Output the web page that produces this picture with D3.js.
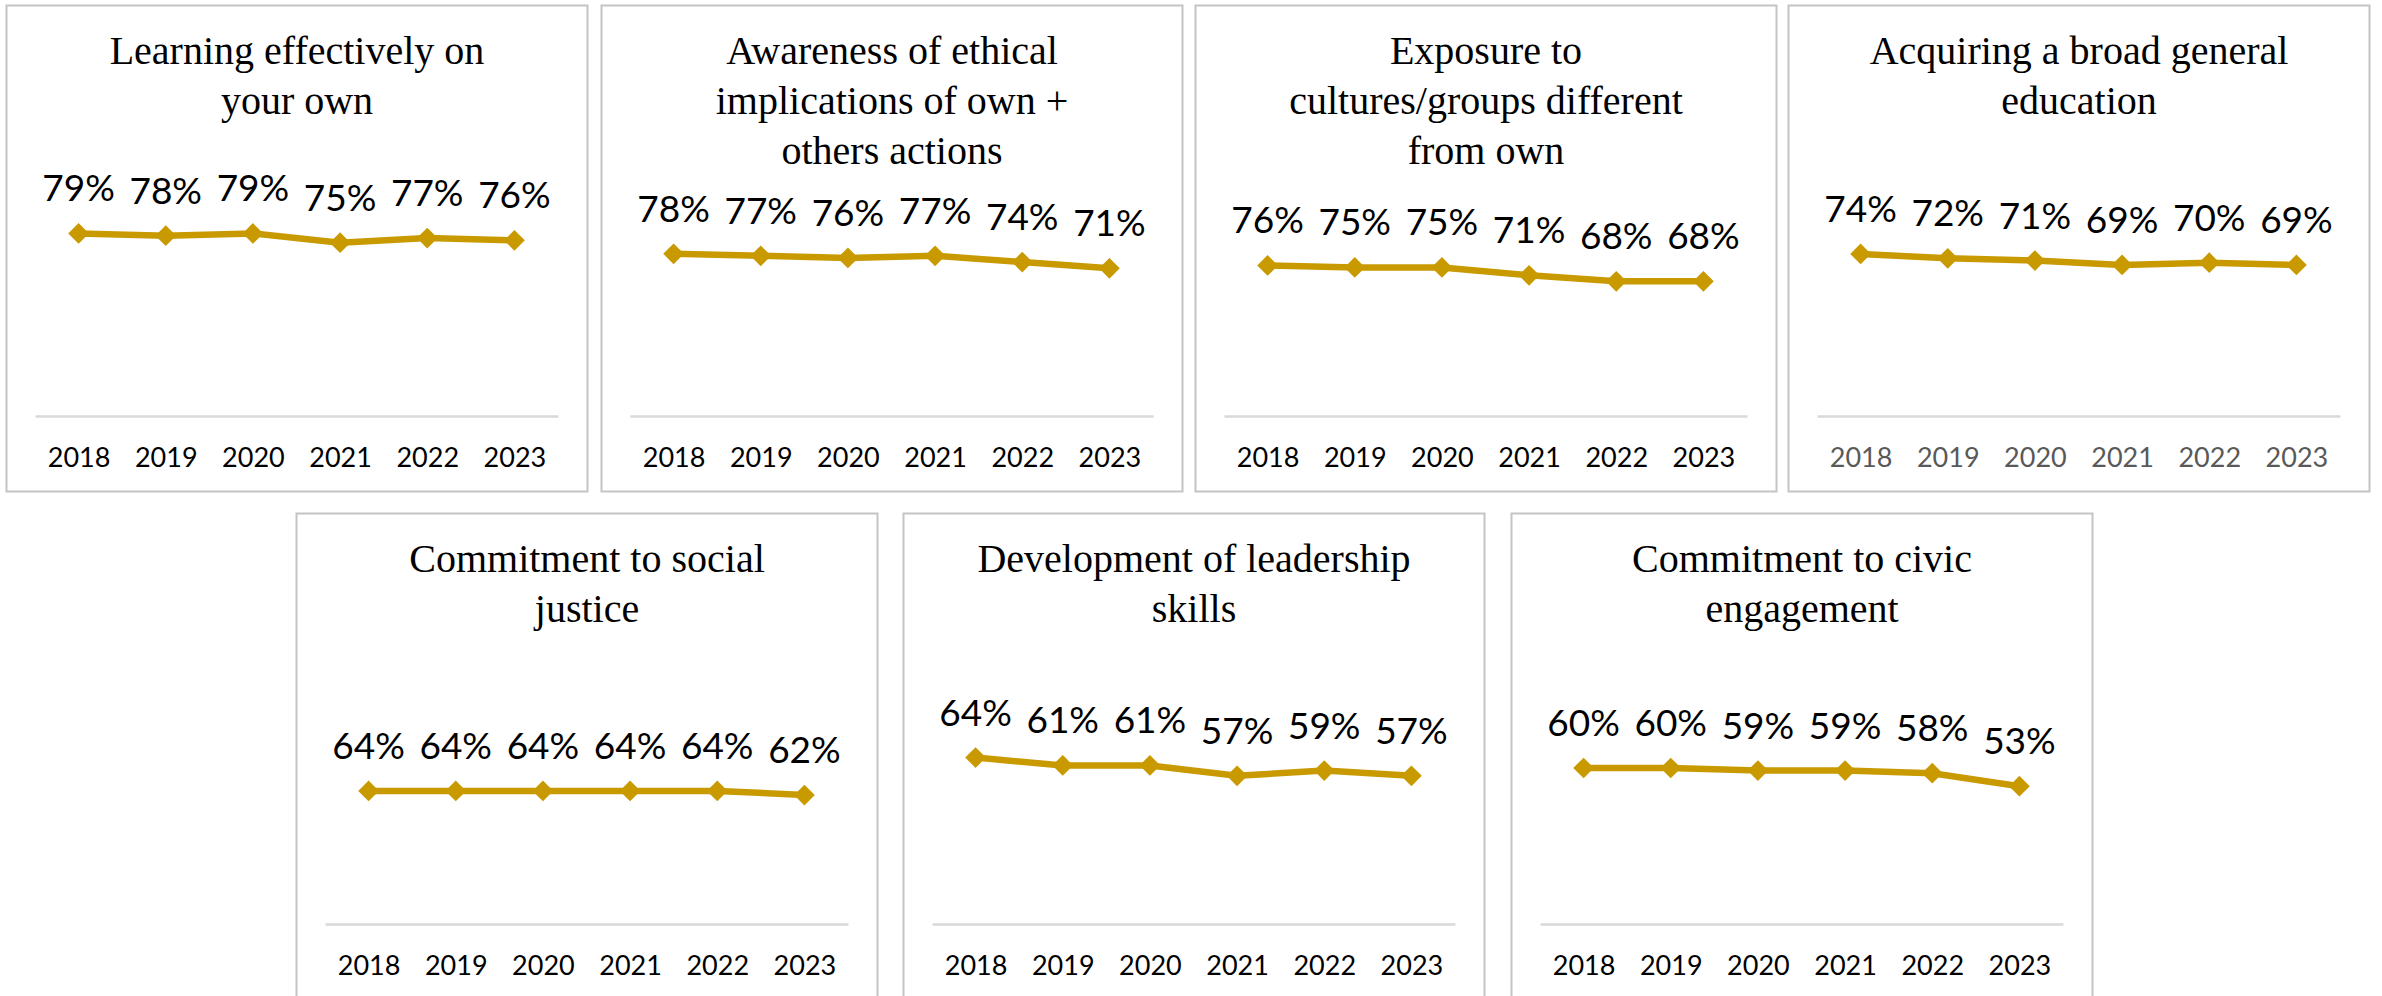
<!DOCTYPE html>
<html>
<head>
<meta charset="utf-8">
<script src="https://cdn.jsdelivr.net/npm/d3@7"></script>
<style>
  html, body { margin: 0; padding: 0; background: #ffffff; }
  svg { display: block; }
</style>
</head>
<body>
<div id="chart"></div>
<script>
// ---------- data ----------
const years = ["2018", "2019", "2020", "2021", "2022", "2023"];

const titles = [
  ["Learning effectively on", "your own"],
  ["Awareness of ethical", "implications of own +", "others actions"],
  ["Exposure to", "cultures/groups different", "from own"],
  ["Acquiring a broad general", "education"],
  ["Commitment to social", "justice"],
  ["Development of leadership", "skills"],
  ["Commitment to civic", "engagement"]
];

const learningOwn   = [0.79, 0.78, 0.79, 0.75, 0.77, 0.76];
const ethicalAware  = [0.78, 0.77, 0.76, 0.77, 0.74, 0.71];
const cultureExpo   = [0.76, 0.75, 0.75, 0.71, 0.68, 0.68];
const generalEdu    = [0.74, 0.72, 0.71, 0.69, 0.70, 0.69];
const socialJustice = [0.64, 0.64, 0.64, 0.64, 0.64, 0.62];
const leadership    = [0.64, 0.61, 0.61, 0.57, 0.59, 0.57];
const civicEngage   = [0.60, 0.60, 0.59, 0.59, 0.58, 0.53];

const seriesValues = [learningOwn, ethicalAware, cultureExpo, generalEdu, socialJustice, leadership, civicEngage];

// value-axis maxima of each small chart
const axisMax = [0.90, 1.00, 1.05, 0.95, 1.00, 0.80, 0.80];

// year label colour per chart
const yearColor = ["#000000", "#000000", "#000000", "#595959", "#000000", "#000000", "#000000"];

// ---------- layout ----------
const W = 2382, H = 996;
const boxW = 582, boxH = 487;
const rowTops = [5, 513];
const boxLefts = [
  [6, 601, 1195, 1788],
  [296, 903, 1511]
];
const GOLD = "#C99A00";

const svg = d3.select("#chart").append("svg")
  .attr("width", W).attr("height", H)
  .attr("viewBox", `0 0 ${W} ${H}`);

svg.append("rect").attr("width", W).attr("height", H).attr("fill", "#fff");

const fmt = d3.format(".0%");

let idx = 0;
boxLefts.forEach((lefts, r) => {
  lefts.forEach(left => {
    const i = idx++;
    const top = rowTops[r];
    const g = svg.append("g").attr("transform", `translate(${left},${top})`);

    // frame
    g.append("rect")
      .attr("x", 0.5).attr("y", 0.5)
      .attr("width", boxW - 1).attr("height", boxH - 1)
      .attr("fill", "#fff")
      .attr("stroke", "#C4C4C4")
      .attr("stroke-width", 2);

    // title
    const t = g.append("text")
      .attr("text-anchor", "middle")
      .attr("font-family", "'Liberation Serif', 'Times New Roman', serif")
      .attr("font-size", 40)
      .attr("fill", "#000");
    titles[i].forEach((line, k) => {
      t.append("tspan").attr("x", boxW / 2).attr("y", 59 + k * 50).text(line);
    });

    // scales
    const axisY = 411;
    const plotH = 208;
    const x = d3.scalePoint().domain(years).range([29, 552]).padding(0.5);
    const y = d3.scaleLinear().domain([0, axisMax[i]]).range([axisY, axisY - plotH]);

    // category axis
    const ax = g.append("g")
      .attr("transform", `translate(0,${axisY})`)
      .call(d3.axisBottom(x).tickSize(0).tickPadding(0));
    ax.select(".domain").attr("stroke", "#D9D9D9").attr("stroke-width", 2.5);
    ax.selectAll("text")
      .attr("y", 51).attr("dy", null)
      .attr("font-family", "Lato, 'Open Sans', sans-serif")
      .attr("font-size", 27)
      .attr("fill", yearColor[i]);

    const data = years.map((yr, k) => ({ yr, v: seriesValues[i][k] }));

    // line
    g.append("path")
      .datum(data)
      .attr("fill", "none")
      .attr("stroke", GOLD)
      .attr("stroke-width", 6.5)
      .attr("stroke-linejoin", "round")
      .attr("d", d3.line().x(d => x(d.yr)).y(d => y(d.v)));

    // markers
    g.selectAll(".mk")
      .data(data)
      .join("path")
      .attr("class", "mk")
      .attr("fill", GOLD)
      .attr("d", d3.symbol(d3.symbolSquare, 215))
      .attr("transform", d => `translate(${x(d.yr)},${y(d.v)}) rotate(45)`);

    // data labels
    g.selectAll(".lbl")
      .data(data)
      .join("text")
      .attr("class", "lbl")
      .attr("text-anchor", "middle")
      .attr("font-family", "Lato, 'Open Sans', sans-serif")
      .attr("font-size", 37)
      .attr("fill", "#000")
      .attr("x", d => x(d.yr))
      .attr("y", d => y(d.v) - 32)
      .text(d => fmt(d.v));
  });
});
</script>
</body>
</html>
